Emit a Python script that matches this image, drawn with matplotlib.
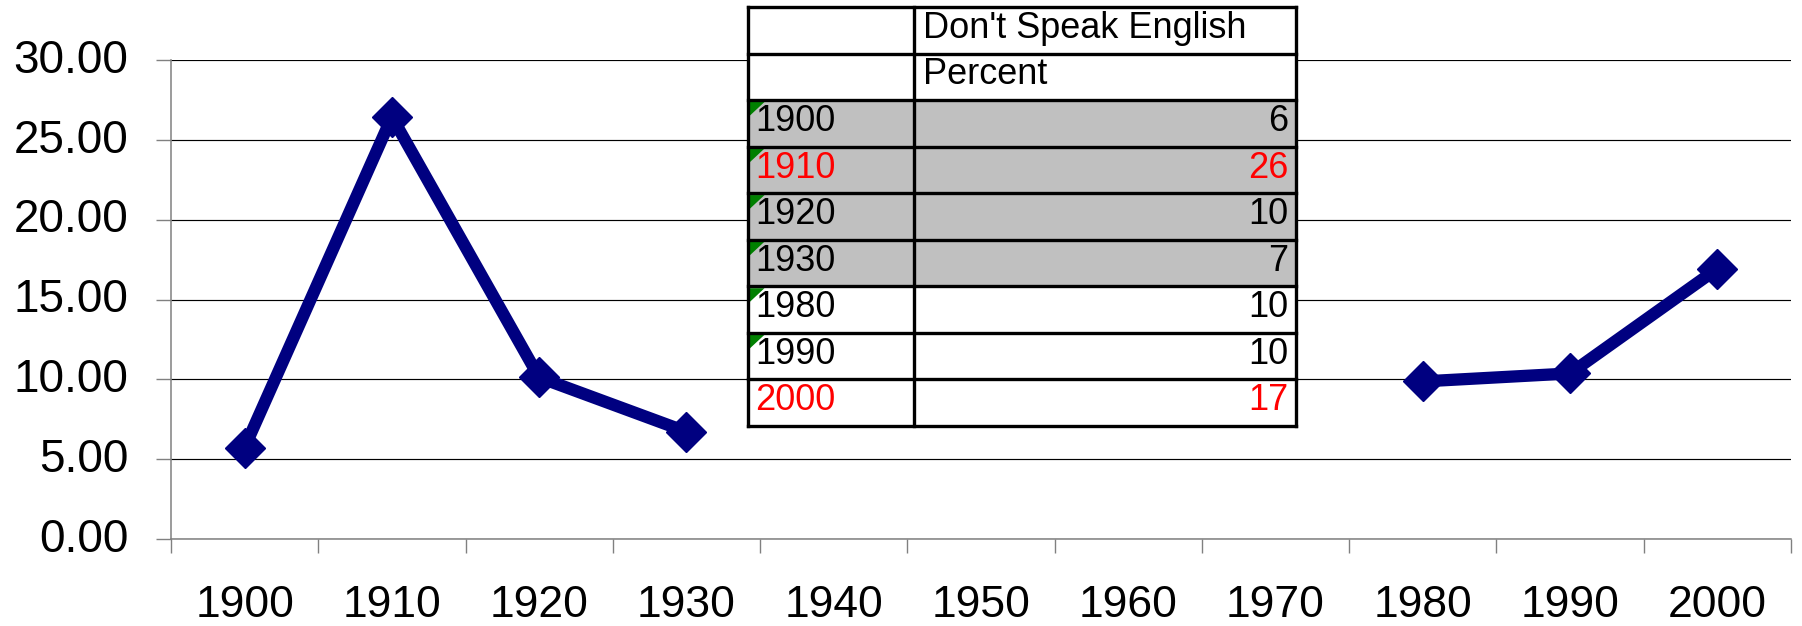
import numpy as np
import matplotlib
matplotlib.use("Agg")
import matplotlib.pyplot as plt
from matplotlib.patches import Rectangle, Polygon
from matplotlib.transforms import ScaledTranslation

plt.rcParams['font.family'] = ['Liberation Sans', 'DejaVu Sans']

# ---- data ----
categories = ["1900", "1910", "1920", "1930", "1940", "1950",
              "1960", "1970", "1980", "1990", "2000"]
percent = [5.73, 26.44, 10.12, 6.72, np.nan, np.nan, np.nan, np.nan,
           9.87, 10.37, 16.93]
y_ticks = [0, 5, 10, 15, 20, 25, 30]

table_header = ["Don't Speak English", "Percent"]
table_years = ["1900", "1910", "1920", "1930", "1980", "1990", "2000"]
table_values = [6, 26, 10, 7, 10, 10, 17]
table_red = [False, True, False, False, False, False, True]
table_gray = [True, True, True, True, False, False, False]
table_flag = [True, True, True, True, True, True, False]

# ---- figure ----
W, H = 1802, 626
fig = plt.figure(figsize=(W / 100, H / 100), dpi=100)
fig.patch.set_facecolor("white")

left, right, top, bottom = 171, 1791, 60, 539
ax = fig.add_axes([left / W, 1 - bottom / H, (right - left) / W, (bottom - top) / H])

x = np.arange(len(categories)) + 0.5
navy = "#000080"
ax.plot(x, percent, color=navy, lw=8.8, marker="D", ms=20.5,
        mfc=navy, mec=navy, mew=1.0, solid_joinstyle="miter", zorder=3,
        clip_on=False)

ax.set_xlim(0, len(categories))
ax.set_ylim(0, 30)
ax.set_yticks(y_ticks)
ax.set_yticklabels([f"{v:.2f}" for v in y_ticks])
ax.set_xticks(np.arange(len(categories) + 1))
ax.set_xticklabels([])
ax.set_xticks(x, minor=True)
ax.set_xticklabels(categories, minor=True)

for s in ["top", "right"]:
    ax.spines[s].set_visible(False)
for s in ["left", "bottom"]:
    ax.spines[s].set_color("#808080")
    ax.spines[s].set_linewidth(1.1)

ax.yaxis.grid(True, color="#000000", lw=0.85)
ax.set_axisbelow(True)
ax.tick_params(axis="y", which="major", length=10.8, width=1.0, color="#808080",
               direction="out", labelsize=33, pad=20)
ax.tick_params(axis="x", which="major", length=10, width=1.0, color="#808080",
               direction="out")
ax.tick_params(axis="x", which="minor", length=0, labelsize=32, pad=33)

shift_up = ScaledTranslation(0, 3 / 72, fig.dpi_scale_trans)
for lab in ax.get_yticklabels():
    lab.set_transform(lab.get_transform() + shift_up)

# ---- data table overlay ----
tl, tr, tt, tb = 748, 1296, 7, 426
tax = fig.add_axes([tl / W, 1 - tb / H, (tr - tl) / W, (tb - tt) / H])
n_rows = len(table_header) + len(table_years)
tax.set_xlim(0, tr - tl)
tax.set_ylim(n_rows, 0)
tax.axis("off")
col_split = 913.5 - tl
width = tr - tl
px_per_row = (tb - tt) / n_rows

# backgrounds
for r in range(n_rows):
    fc = "white"
    if r >= len(table_header) and table_gray[r - len(table_header)]:
        fc = "#C0C0C0"
    tax.add_patch(Rectangle((0, r), width, 1, facecolor=fc, edgecolor="none", zorder=1))

# green corner flags
tri_w, tri_h = 15, 14 / px_per_row
for i, flag in enumerate(table_flag):
    if flag:
        r = len(table_header) + i
        tax.add_patch(Polygon([(1.5, r + 0.04), (1.5 + tri_w, r + 0.04), (1.5, r + 0.04 + tri_h)],
                              closed=True, facecolor="#008000", edgecolor="none", zorder=2))

# grid lines of table
lw_t = 2.4
for r in range(n_rows + 1):
    tax.plot([0, width], [r, r], color="black", lw=lw_t, zorder=4,
             solid_capstyle="projecting", clip_on=False)
for xc in [0, col_split, width]:
    tax.plot([xc, xc], [0, n_rows], color="black", lw=lw_t, zorder=4,
             solid_capstyle="projecting", clip_on=False)

fs_t = 26
for r, h in enumerate(table_header):
    tax.text(col_split + 9, r + 0.46, h, ha="left", va="center", fontsize=fs_t,
             color="black", zorder=5)
for i, (yr, v) in enumerate(zip(table_years, table_values)):
    r = len(table_header) + i + 0.46
    c = "#FF0000" if table_red[i] else "black"
    tax.text(7, r, yr, ha="left", va="center", fontsize=fs_t, color=c, zorder=5)
    tax.text(width - 8, r, str(v), ha="right", va="center", fontsize=fs_t, color=c, zorder=5)

fig.savefig("out.png", dpi=100, facecolor="white")
